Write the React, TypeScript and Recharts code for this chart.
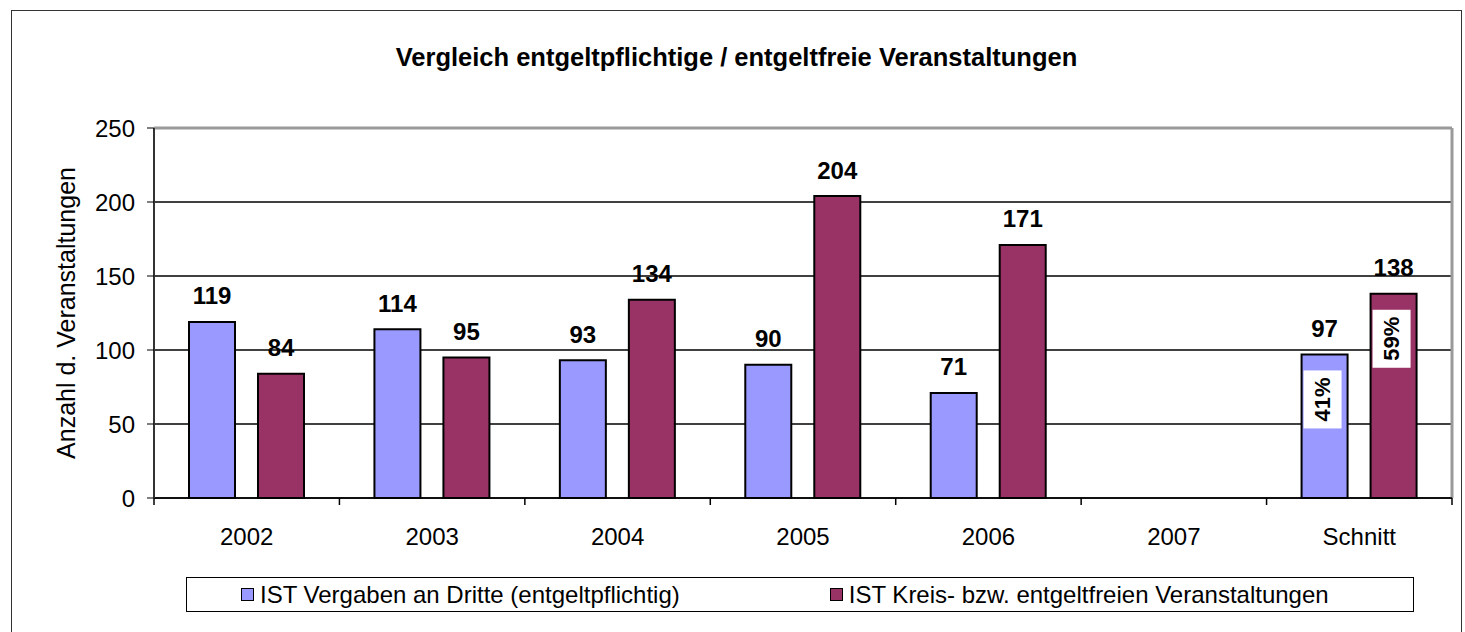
import {
  BarChart,
  Bar,
  XAxis,
  YAxis,
  CartesianGrid,
  ReferenceLine,
  LabelList,
} from 'recharts';

const categories = ['2002', '2003', '2004', '2005', '2006', '2007', 'Schnitt'];
const paidEvents = [119, 114, 93, 90, 71, null, 97];
const freeEvents = [84, 95, 134, 204, 171, null, 138];
const paidShare = [null, null, null, null, null, null, '41%'];
const freeShare = [null, null, null, null, null, null, '59%'];
const yTicks = [0, 50, 100, 150, 200, 250];
const seriesNames = [
  'IST Vergaben an Dritte (entgeltpflichtig)',
  'IST Kreis- bzw. entgeltfreien Veranstaltungen',
];
const seriesColors = ['#9999FF', '#993366'];

const data = categories.map((c, i) => ({
  name: c,
  paid: paidEvents[i],
  free: freeEvents[i],
  paidShare: paidShare[i],
  freeShare: freeShare[i],
}));

const FONT = '"Liberation Sans", Arial, sans-serif';

function ValueLabel(props: any) {
  const { x, y, width, value } = props;
  if (value == null) return null;
  return (
    <text
      x={x + width / 2}
      y={y - 26}
      textAnchor="middle"
      dominantBaseline="central"
      fontWeight="bold"
      fontSize={24}
      fill="#000"
    >
      {value}
    </text>
  );
}

function ShareLabel(props: any) {
  const { x, y, value } = props;
  if (!value) return null;
  const bx = x + 2;
  const bw = 38;
  const by = y + 16;
  const bh = 58;
  return (
    <g>
      <rect x={bx} y={by} width={bw} height={bh} fill="#fff" />
      <text
        transform={`translate(${bx + bw / 2},${by + bh / 2}) rotate(-90)`}
        textAnchor="middle"
        dominantBaseline="central"
        fontWeight="bold"
        fontSize={22}
        fill="#000"
      >
        {value}
      </text>
    </g>
  );
}

function CategoryTick(props: any) {
  const { x, y, payload, index, width } = props;
  const half = payload?.offset ?? width / categories.length / 2;
  return (
    <g>
      <line x1={x - half} x2={x - half} y1={y} y2={y + 7} stroke="#000" strokeWidth={1.5} />
      {index === categories.length - 1 && (
        <line x1={x + half} x2={x + half} y1={y} y2={y + 7} stroke="#000" strokeWidth={1.5} />
      )}
      <text x={x} y={y + 38} textAnchor="middle" dominantBaseline="central" fontSize={24} fill="#000">
        {payload.value}
      </text>
    </g>
  );
}

export default function App() {
  return (
    <div
      style={{
        position: 'absolute',
        left: 0,
        top: 0,
        width: 1465,
        height: 632,
        overflow: 'hidden',
        background: '#fff',
        fontFamily: FONT,
      }}
    >
      <div
        style={{
          position: 'absolute',
          left: 11,
          top: 10,
          width: 1451,
          height: 660,
          border: '1.5px solid #333',
          boxSizing: 'border-box',
        }}
      />
      <div
        style={{
          position: 'absolute',
          left: 11,
          top: 42,
          width: 1451,
          textAlign: 'center',
          fontWeight: 'bold',
          fontSize: 25.5,
          lineHeight: '30px',
          whiteSpace: 'nowrap',
        }}
      >
        Vergleich entgeltpflichtige / entgeltfreie Veranstaltungen
      </div>
      <div style={{ position: 'absolute', left: 0, top: 0 }}>
        <BarChart
          width={1465}
          height={632}
          data={data}
          margin={{ top: 128, right: 13, bottom: 84, left: 0 }}
          barCategoryGap={35}
          barGap={23}
        >
          <CartesianGrid horizontal vertical={false} stroke="#000" strokeWidth={1.3} />
          <CartesianGrid
            horizontal={false}
            vertical
            stroke="#9a9a9a"
            strokeWidth={3}
            verticalCoordinatesGenerator={({ offset }: any) => [offset.left + offset.width]}
          />
          <ReferenceLine y={250} stroke="#9a9a9a" strokeWidth={3} />
          <XAxis
            dataKey="name"
            height={50}
            axisLine={{ stroke: '#000', strokeWidth: 1.5 }}
            tickLine={false}
            tickSize={0}
            tickMargin={0}
            interval={0}
            tick={<CategoryTick />}
          />
          <YAxis
            width={154}
            domain={[0, 250]}
            ticks={yTicks}
            interval={0}
            axisLine={{ stroke: '#333', strokeWidth: 2 }}
            tickLine={{ stroke: '#000' }}
            tickSize={7}
            tickMargin={12}
            tick={{ fontSize: 24, fill: '#000' }}
            label={{
              value: 'Anzahl d. Veranstaltungen',
              angle: -90,
              position: 'insideLeft',
              offset: 66,
              fontSize: 25,
              fill: '#000',
              style: { textAnchor: 'middle' },
            }}
          />
          <Bar
            dataKey="paid"
            fill={seriesColors[0]}
            stroke="#000"
            strokeWidth={2}
            isAnimationActive={false}
          >
            <LabelList dataKey="paid" content={<ValueLabel />} />
            <LabelList dataKey="paidShare" content={<ShareLabel />} />
          </Bar>
          <Bar
            dataKey="free"
            fill={seriesColors[1]}
            stroke="#000"
            strokeWidth={2}
            isAnimationActive={false}
          >
            <LabelList dataKey="free" content={<ValueLabel />} />
            <LabelList dataKey="freeShare" content={<ShareLabel />} />
          </Bar>
        </BarChart>
      </div>
      <div
        style={{
          position: 'absolute',
          left: 186,
          top: 577,
          width: 1228,
          height: 35,
          border: '1px solid #000',
          boxSizing: 'border-box',
          display: 'flex',
          alignItems: 'center',
          paddingLeft: 54,
          fontSize: 24,
          whiteSpace: 'nowrap',
        }}
      >
        {seriesNames.map((n, i) => (
          <div
            key={n}
            style={{
              display: 'flex',
              alignItems: 'center',
              flexShrink: 0,
              marginRight: 150,
            }}
          >
            <span
              style={{
                display: 'inline-block',
                width: 13,
                height: 13,
                background: seriesColors[i],
                border: '1.5px solid #000',
                boxSizing: 'border-box',
                marginRight: 6,
              }}
            />
            <span>{n}</span>
          </div>
        ))}
      </div>
    </div>
  );
}
